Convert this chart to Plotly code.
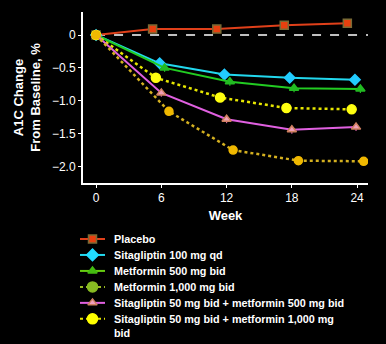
import plotly.graph_objects as go

tick_vals = [0, 6, 12, 18, 24]
tick_text = ["0", "6", "12", "18", "24"]
y_ticks = [0, -0.5, -1.0, -1.5, -2.0]
y_tick_text = ["0", "\u22120.5", "\u22121.0", "\u22121.5", "\u22122.0"]

names = [
    "Placebo",
    "Sitagliptin 100 mg qd",
    "Metformin 500 mg bid",
    "Metformin 1,000 mg bid",
    "Sitagliptin 50 mg bid + metformin 500 mg bid",
    "Sitagliptin 50 mg bid + metformin 1,000 mg<br>bid",
]

# plotted x positions (slightly offset per group as in the original)
placebo_x = [0, 5.2, 11.1, 17.3, 23.1]
placebo_y = [0, 0.09, 0.09, 0.15, 0.18]
sita100_x = [0, 5.85, 11.8, 17.8, 23.8]
sita100_y = [0, -0.43, -0.60, -0.65, -0.68]
met500_x = [0, 6.3, 12.3, 18.2, 24.3]
met500_y = [0, -0.50, -0.71, -0.81, -0.82]
met1000_x = [0, 5.5, 11.4, 17.5, 23.5]
met1000_y = [0, -0.65, -0.95, -1.11, -1.13]
sm500_x = [0, 6.0, 12.0, 18.0, 23.9]
sm500_y = [0, -0.88, -1.28, -1.44, -1.40]
sm1000_x = [0, 6.7, 12.6, 18.6, 24.6]
sm1000_y = [0, -1.16, -1.75, -1.91, -1.92]
err = [0, 0.06, 0.06, 0.06, 0.06]

series = [
    dict(x=placebo_x, y=placebo_y, line="#e0401a", dash="solid", sym="square", mc="#e8400f", ml="#7a6a35", ec="#7a6a35", ms=8),
    dict(x=sita100_x, y=sita100_y, line="#22d8ee", dash="solid", sym="diamond", mc="#22ccff", ml="#22ccff", ec="#22ccff", ms=8),
    dict(x=met500_x, y=met500_y, line="#22cc22", dash="solid", sym="triangle-up", mc="#22bb22", ml="#22bb22", ec="#22bb22", ms=8),
    dict(x=met1000_x, y=met1000_y, line="#e6e600", dash="dot", sym="circle", mc="#ffff10", ml="#ffff10", ec="#d8d800", ms=9),
    dict(x=sm500_x, y=sm500_y, line="#e060e0", dash="solid", sym="triangle-up", mc="#f0a0b8", ml="#d08060", ec="#d060a0", ms=8),
    dict(x=sm1000_x, y=sm1000_y, line="#d4b020", dash="dot", sym="circle", mc="#f0b800", ml="#f0b800", ec="#c09010", ms=8),
]

legend_style = [
    dict(line="#e0401a", dash="solid", sym="square", mc="#e8400f", ml="#7a6a35", ms=8),
    dict(line="#22d8ee", dash="solid", sym="diamond", mc="#22ddff", ml="#22ddff", ms=9),
    dict(line="#66cc11", dash="solid", sym="triangle-up", mc="#44bb11", ml="#44bb11", ms=8),
    dict(line="#99bb22", dash="dot", sym="circle", mc="#88bb22", ml="#88bb22", ms=10),
    dict(line="#e060e0", dash="solid", sym="triangle-up", mc="#f0a0c0", ml="#d08060", ms=8),
    dict(line="#e6e600", dash="dot", sym="circle", mc="#ffff00", ml="#ffff00", ms=10),
]

W, H = 386, 344
plot_l, plot_r, plot_t, plot_b = 83, 368, 12, 183

fig = go.Figure()

fig.add_trace(go.Scatter(x=[0, 25.0], y=[0, 0], mode="lines",
                         line=dict(color="white", width=1.5, dash="dash"),
                         showlegend=False, hoverinfo="skip"))

for s in series:
    fig.add_trace(go.Scatter(
        x=s["x"], y=s["y"], mode="lines+markers", showlegend=False,
        line=dict(color=s["line"], width=2 if s["dash"] == "solid" else 2.5, dash=s["dash"]),
        marker=dict(symbol=s["sym"], size=s["ms"], color=s["mc"], line=dict(color=s["ml"], width=1.5)),
        error_y=dict(type="data", array=err, color=s["ec"], thickness=1.2, width=0),
    ))

# custom legend drawn on a second pair of axes (row units)
sample_x0, sample_x1, sample_mid, text_x = 80, 105, 92.5, 112
row_step = 1.0
for i, (n, s) in enumerate(zip(names, legend_style)):
    r = i * row_step
    fig.add_trace(go.Scatter(
        x=[sample_x0, sample_x1], y=[r, r], mode="lines", xaxis="x2", yaxis="y2",
        line=dict(color=s["line"], width=2, dash=s["dash"]), showlegend=False, hoverinfo="skip"))
    fig.add_trace(go.Scatter(
        x=[sample_mid], y=[r], mode="markers", xaxis="x2", yaxis="y2",
        marker=dict(symbol=s["sym"], size=s["ms"], color=s["mc"], line=dict(color=s["ml"], width=1.5)),
        showlegend=False, hoverinfo="skip"))
    multi = "<br>" in n
    fig.add_annotation(
        x=text_x, y=r - (0.5 if multi else 0), xref="x2", yref="y2",
        text="<b>" + n + "</b>", showarrow=False, align="left",
        xanchor="left", yanchor="top" if multi else "middle",
        font=dict(size=10.8, color="white", family="Liberation Sans, Arial, sans-serif"))

fig.update_layout(
    width=W, height=H,
    paper_bgcolor="black", plot_bgcolor="black",
    margin=dict(l=0, r=0, t=0, b=0),
    showlegend=False,
    font=dict(family="Liberation Sans, Arial, sans-serif", color="white", size=12),
    xaxis=dict(domain=[plot_l / W, plot_r / W], range=[-1.2, 25.0], tickvals=tick_vals, ticktext=tick_text,
               showgrid=False, zeroline=False, showline=True, linecolor="white", linewidth=2,
               ticks="outside", ticklen=3, tickcolor="white",
               title=dict(text="<b>Week</b>", font=dict(size=13), standoff=6),
               tickfont=dict(size=12)),
    yaxis=dict(domain=[1 - plot_b / H, 1 - plot_t / H], range=[-2.25, 0.35], tickvals=y_ticks, ticktext=y_tick_text,
               showgrid=False, zeroline=False, showline=True, linecolor="white", linewidth=2,
               ticks="outside", ticklen=3, tickcolor="white",
               title=dict(text="<b>A1C Change<br>From Baseline, %</b>", font=dict(size=13), standoff=8),
               tickfont=dict(size=12)),
    xaxis2=dict(domain=[0, 1], range=[0, W], visible=False, fixedrange=True, anchor="y2"),
    yaxis2=dict(domain=[1 - 338 / H, 1 - 231 / H], range=[6.2, -0.5], visible=False, fixedrange=True, anchor="x2"),
)

fig.write_html("out.html")
